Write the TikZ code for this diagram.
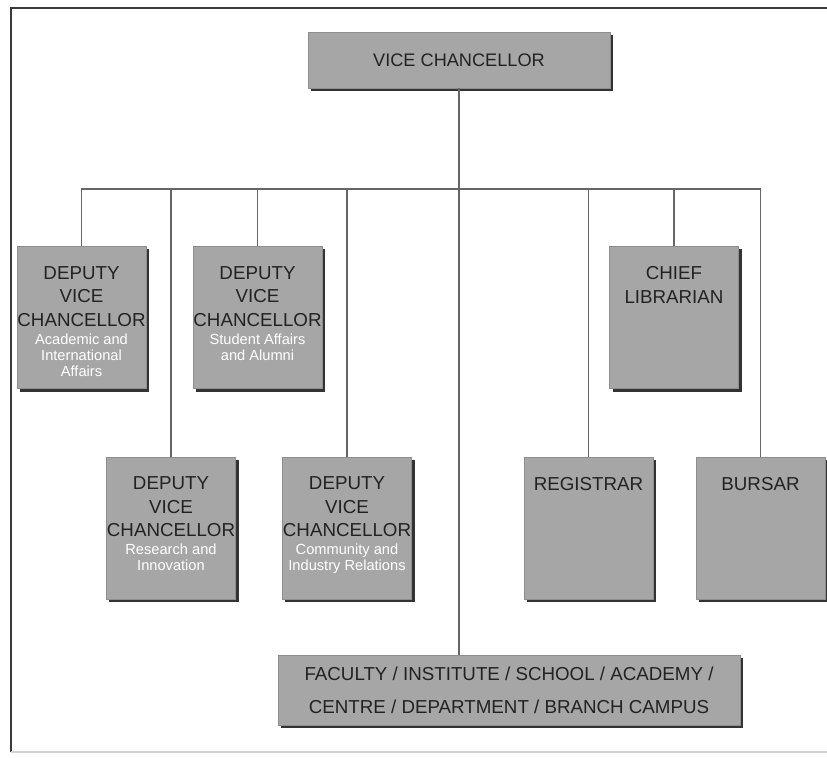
\documentclass[tikz,border=0pt]{standalone}
\usepackage{fontspec}
\setmainfont{Liberation Sans}
\usepackage{tikz}
\usetikzlibrary{shadows}
\definecolor{BoxGray}{HTML}{A6A6A6}
\definecolor{BoxEdge}{HTML}{8E8E8E}
\definecolor{ShadowGray}{HTML}{333333}
\definecolor{LineGray}{HTML}{666666}
\definecolor{InkDark}{HTML}{222222}
\definecolor{FrameGray}{HTML}{3A3A3A}
\newcommand{\titlefont}{\fontsize{16}{20}\selectfont}
\newcommand{\notefont}{\fontsize{12.5}{13.5}\selectfont}
\newcommand{\unitcard}[2]{\parbox[c][4.26cm][t]{3.87cm}{\centering
    \vspace*{0.6cm}\titlefont #1\par\vspace{2pt}\notefont\textcolor{white}{#2}\par}}

\begin{document}
\begin{tikzpicture}[x=0.03cm, y=-0.03cm,
    card/.style={fill=BoxGray, draw=BoxEdge, line width=0.4pt, inner sep=0pt,
                 text=InkDark,
                 drop shadow={shadow xshift=0.09cm, shadow yshift=-0.09cm,
                              fill=ShadowGray, opacity=1}},
    link/.style={LineGray, line width=1.3pt}]
    \useasboundingbox (0,0) rectangle (827,758);

    % Page frame
    \draw[FrameGray, line width=1.5pt] (827,8) -- (11,8) -- (11,752);
    \draw[gray!35, line width=1pt] (11,752) -- (827,752);

    % Top of the chart
    \node[card, minimum width=9.06cm, minimum height=1.68cm,
          font=\fontsize{15.5}{18}\selectfont] (vc) at (459,60) {VICE CHANCELLOR};

    % Upper row
    \node[card] (dvcaca) at (81.5,317.5)
        {\unitcard{DEPUTY\\VICE\\CHANCELLOR}{Academic and\\International\\Affairs}};
    \node[card] (dvcstu) at (257.5,317.5)
        {\unitcard{DEPUTY\\VICE\\CHANCELLOR}{Student Affairs\\and Alumni}};
    \node[card] (librarian) at (674,317.5) {\unitcard{CHIEF\\LIBRARIAN}{}};

    % Lower row
    \node[card] (dvcres) at (171,528)
        {\unitcard{DEPUTY\\VICE\\CHANCELLOR}{Research and\\Innovation}};
    \node[card] (dvccom) at (347,528)
        {\unitcard{DEPUTY\\VICE\\CHANCELLOR}{Community and\\Industry Relations}};
    \node[card] (registrar) at (588.5,528) {\unitcard{REGISTRAR}{}};
    \node[card] (bursar) at (760.5,528) {\unitcard{BURSAR}{}};

    % Academic units
    \node[card, minimum width=13.86cm, minimum height=2.1cm, align=center,
          font=\fontsize{16}{28}\selectfont] (faculty) at (509,690)
        {FACULTY / INSTITUTE / SCHOOL / ACADEMY /\\
         CENTRE / DEPARTMENT / BRANCH CAMPUS};

    % Lines of report
    \path (vc.south) ++(0,101) coordinate (bus);
    \draw[link] (vc.south) -- (vc.south |- faculty.north);
    \foreach \unit in {dvcaca, dvcres, dvcstu, dvccom, registrar, librarian, bursar}
        \draw[link] (bus) -| (\unit.north);
\end{tikzpicture}
\end{document}
